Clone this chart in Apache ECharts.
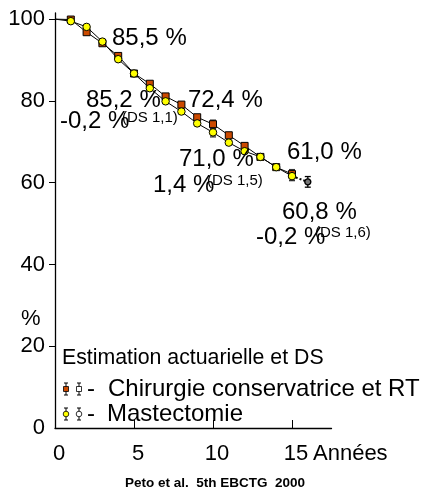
<!DOCTYPE html>
<html>
<head>
<meta charset="utf-8">
<script src="https://cdn.jsdelivr.net/npm/echarts@6/dist/echarts.min.js"></script>
<style>html,body{margin:0;padding:0;background:#fff}#c{width:423px;height:494px}</style>
</head>
<body>
<div id="c"></div>
<script>
// ---- data ----
var years = [0, 1, 2, 3, 4, 5, 6, 7, 8, 9, 10, 11, 12, 13, 14, 15];
var conservatrice = [100, 99.9, 96.8, 94.1, 91.0, 86.7, 84.2, 81.1, 79.1, 76.0, 74.3, 71.6, 69.0, 66.3, 63.8, 62.1];
var mastectomie = [100, 99.5, 98.1, 94.5, 90.2, 86.7, 83.1, 79.9, 77.4, 74.5, 72.3, 69.8, 67.7, 66.3, 63.8, 61.6];
var extYears = [15, 16];
var extValues = [61.6, 60.2];
// error bars: [year, low, high]
var errConservatrice = [[10, 73.3, 75.3], [15, 61.0, 63.2]];
var errMastectomie = [[10, 71.2, 73.4], [15, 60.5, 62.7]];
var errExt = [[16, 58.9, 61.5]];
var xTicks = [0, 5, 10, 15];
var yTicks = [0, 20, 40, 60, 80, 100];
var xName = 'Années';
var yName = '%';
var legendTitle = 'Estimation actuarielle et DS';
var seriesNames = ['Chirurgie conservatrice et RT', 'Mastectomie'];
var annotations = ['85,5 %', '85,2 %', '-0,2 %', '(DS 1,1)', '72,4 %', '71,0 %', '1,4 %', '(DS 1,5)', '61,0 %', '60,8 %', '-0,2 %', '(DS 1,6)'];
var source = 'Peto et al.  5th EBCTG  2000';

var FONT = '"Liberation Sans", Arial, sans-serif';
var SQ = '#CC4A00', YEL = '#FFFF00';

function pts(xs, ys) {
  return xs.map(function (x, i) {
    var d = { value: [x, ys[i]] };
    if (x === 0) d.symbol = 'none';
    return d;
  });
}
function errRender(color) {
  return function (params, api) {
    var lo = api.coord([api.value(0), api.value(1)]);
    var hi = api.coord([api.value(0), api.value(2)]);
    var w = 3;
    var st = { stroke: color, lineWidth: 1.3 };
    return { type: 'group', children: [
      { type: 'line', shape: { x1: lo[0], y1: lo[1], x2: hi[0], y2: hi[1] }, style: st },
      { type: 'line', shape: { x1: lo[0] - w, y1: lo[1], x2: lo[0] + w, y2: lo[1] }, style: st },
      { type: 'line', shape: { x1: hi[0] - w, y1: hi[1], x2: hi[0] + w, y2: hi[1] }, style: st }
    ]};
  };
}
function txt(t, x, y, size, extra) {
  var s = { text: t, x: x, y: y, font: (extra || '') + ' ' + size + 'px ' + FONT, fill: '#000',
    align: 'left', verticalAlign: 'middle', textAlign: 'left', textVerticalAlign: 'middle' };
  return { type: 'text', style: s, z: 100 };
}
function legIcon(x, y, shape, fill) {
  var c = [];
  c.push({ type: 'line', shape: { x1: x, y1: y - 6, x2: x, y2: y + 6 }, style: { stroke: '#000', lineWidth: 1 } });
  c.push({ type: 'line', shape: { x1: x - 2, y1: y - 6, x2: x + 2, y2: y - 6 }, style: { stroke: '#000', lineWidth: 1 } });
  c.push({ type: 'line', shape: { x1: x - 2, y1: y + 6, x2: x + 2, y2: y + 6 }, style: { stroke: '#000', lineWidth: 1 } });
  if (shape === 'rect') c.push({ type: 'rect', shape: { x: x - 2.5, y: y - 2.5, width: 5, height: 5 }, style: { fill: fill, stroke: '#000', lineWidth: 0.8 } });
  else c.push({ type: 'circle', shape: { cx: x, cy: y, r: 2.8 }, style: { fill: fill, stroke: '#000', lineWidth: 0.8 } });
  return { type: 'group', children: c, z: 100 };
}

var chart = echarts.init(document.getElementById('c'), null, { renderer: 'canvas' });
chart.setOption({
  animation: false,
  backgroundColor: '#fff',
  grid: { left: 55, top: 13, width: 276.5, height: 415 },
  xAxis: {
    type: 'value', min: 0, max: 17.5,
    axisLine: { show: true, lineStyle: { color: '#000', width: 1.3 } },
    axisTick: { show: true, inside: true, length: 8, customValues: xTicks.slice(1), lineStyle: { color: '#000' } },
    axisLabel: { customValues: xTicks, fontSize: 22, color: '#000', fontFamily: FONT, margin: 15, padding: [0, 0, 0, 8] },
    splitLine: { show: false }
  },
  yAxis: {
    type: 'value', min: 0, max: 101.5,
    axisLine: { show: true, lineStyle: { color: '#000', width: 1.3 } },
    axisTick: { show: true, inside: false, length: 6, customValues: yTicks.slice(1), lineStyle: { color: '#000' } },
    axisLabel: { customValues: yTicks, fontSize: 22, color: '#000', fontFamily: FONT, margin: 10 },
    splitLine: { show: false }
  },
  series: [
    { type: 'line', name: seriesNames[0], data: pts(years, conservatrice), symbol: 'rect', symbolSize: 7,
      itemStyle: { color: SQ, borderColor: '#000', borderWidth: 1 }, lineStyle: { color: '#000', width: 1 }, z: 3 },
    { type: 'line', name: seriesNames[1], data: pts(years, mastectomie), symbol: 'circle', symbolSize: 7.5,
      itemStyle: { color: YEL, borderColor: '#000', borderWidth: 1 }, lineStyle: { color: '#000', width: 1 }, z: 4 },
    { type: 'line', data: extYears.map(function (x, i) { return { value: [x, extValues[i]], symbol: i === 0 ? 'none' : 'circle' }; }),
      symbolSize: 6, itemStyle: { color: '#777', borderColor: '#000', borderWidth: 1.4 },
      lineStyle: { color: '#000', width: 2, type: 'dotted' }, z: 2 },
    { type: 'custom', data: errConservatrice, renderItem: errRender('#333'), encode: { x: 0, y: [1, 2] }, z: 2 },
    { type: 'custom', data: errMastectomie, renderItem: errRender('#333'), encode: { x: 0, y: [1, 2] }, z: 2 },
    { type: 'custom', data: errExt, renderItem: errRender('#000'), encode: { x: 0, y: [1, 2] }, z: 2 }
  ],
  graphic: [
    txt(annotations[0], 112, 38, 24),
    txt(annotations[1], 86, 100, 24),
    txt(annotations[2], 60, 121, 24),
    txt(annotations[3], 122, 118, 15),
    txt(annotations[4], 188, 100, 24),
    txt(annotations[5], 179, 159, 24),
    txt(annotations[6], 153, 185, 24),
    txt(annotations[7], 207, 181, 15),
    txt(annotations[8], 287, 152, 24),
    txt(annotations[9], 282, 212, 24),
    txt(annotations[10], 256, 237, 24),
    txt(annotations[11], 315, 233, 15),
    txt(xName, 313, 454, 22),
    txt(yName, 21, 319, 22),
    txt(legendTitle, 62, 358, 21.3),
    txt('-', 87, 389, 24),
    txt(seriesNames[0], 108, 389, 24),
    txt('-', 87, 414, 24),
    txt(seriesNames[1], 107, 414, 24),
    legIcon(66, 389, 'rect', SQ),
    legIcon(79, 389, 'rect', '#fff'),
    legIcon(66, 414, 'circle', YEL),
    legIcon(79, 414, 'circle', '#fff'),
    { type: 'text', z: 100, style: { text: source, x: 215, y: 483, font: 'bold 13.5px ' + FONT, fill: '#000',
      align: 'center', verticalAlign: 'middle', textAlign: 'center', textVerticalAlign: 'middle' } }
  ]
});
</script>
</body>
</html>
